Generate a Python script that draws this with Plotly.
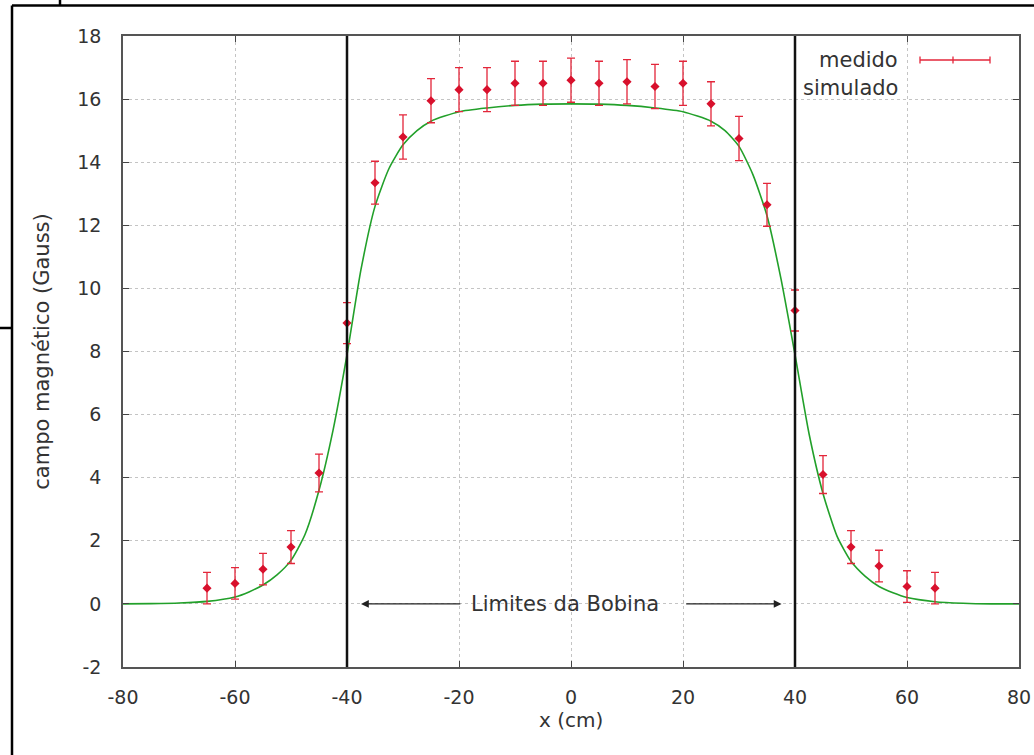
import plotly.graph_objects as go

# ---- data ----
x_medido = [-65, -60, -55, -50, -45, -40, -35, -30, -25, -20, -15, -10, -5, 0,
            5, 10, 15, 20, 25, 30, 35, 40, 45, 50, 55, 60, 65]
y_medido = [0.5, 0.65, 1.1, 1.8, 4.15, 8.9, 13.35, 14.8, 15.95, 16.3, 16.3, 16.5, 16.5, 16.6,
            16.5, 16.55, 16.4, 16.5, 15.85, 14.75, 12.65, 9.3, 4.1, 1.8, 1.2, 0.55, 0.5]
err_medido = [0.5, 0.5, 0.5, 0.52, 0.6, 0.65, 0.68, 0.7, 0.7, 0.7, 0.7, 0.7, 0.7, 0.7,
              0.7, 0.7, 0.7, 0.7, 0.7, 0.7, 0.68, 0.65, 0.6, 0.52, 0.5, 0.5, 0.5]

x_simulado = [-80, -75, -70, -65, -60, -57.5, -55, -52.5, -50, -47.5, -45, -42.5, -40, -37.5,
              -35, -32.5, -30, -27.5, -25, -20, -15, -10, -5, 0, 5, 10, 15, 20, 25, 27.5,
              30, 32.5, 35, 37.5, 40, 42.5, 45, 47.5, 50, 52.5, 55, 57.5, 60, 65, 70, 75, 80]
y_simulado = [0, 0.01, 0.03, 0.08, 0.22, 0.38, 0.6, 0.92, 1.38, 2.2, 3.6, 5.5, 7.9, 10.6,
              12.6, 13.8, 14.55, 15.0, 15.3, 15.6, 15.72, 15.8, 15.84, 15.85, 15.84, 15.8, 15.72, 15.6, 15.3, 15.0,
              14.5, 13.6, 12.3, 10.3, 7.9, 5.4, 3.5, 2.15, 1.35, 0.88, 0.55, 0.35, 0.2, 0.07, 0.02, 0.0, 0.0]

limites_bobina = [-40, 40]
x_ticks = [-80, -60, -40, -20, 0, 20, 40, 60, 80]
x_ticktext = ["-80", "-60", "-40", "-20", "0", "20", "40", "60", "80"]
y_ticks = [-2, 0, 2, 4, 6, 8, 10, 12, 14, 16, 18]
y_ticktext = ["-2", "0", "2", "4", "6", "8", "10", "12", "14", "16", "18"]

FONT = "DejaVu Sans, sans-serif"
TXT = "#333333"
RED = "#e3263a"
FS = 21
TFS = 19

fig = go.Figure()

fig.add_trace(go.Scatter(
    x=x_simulado, y=y_simulado, mode="lines", name="simulado",
    line=dict(color="#22a02a", width=1.6, shape="spline", smoothing=0.6),
    showlegend=False, hoverinfo="skip"))

fig.add_trace(go.Scatter(
    x=x_medido, y=y_medido, mode="markers", name="medido",
    marker=dict(symbol="diamond", size=7, color="#d8102c"),
    error_y=dict(type="data", array=err_medido, visible=True,
                 color=RED, thickness=1.3, width=4),
    showlegend=False))

shapes = []
# coil limits
for xv in limites_bobina:
    shapes.append(dict(type="line", xref="x", yref="paper", x0=xv, x1=xv, y0=0, y1=1,
                       line=dict(color="#111111", width=2.5), layer="above"))

# legend sample for "medido"
ly = (667 - 60) / 631
lx0, lx1, lxm = (920 - 123) / 896, (990 - 123) / 896, (953 - 123) / 896
cap = 3.5 / 631
shapes.append(dict(type="line", xref="paper", yref="paper", x0=lx0, x1=lx1, y0=ly, y1=ly,
                   line=dict(color=RED, width=1.3)))
for xv in (lx0, lx1, lxm):
    shapes.append(dict(type="line", xref="paper", yref="paper", x0=xv, x1=xv,
                       y0=ly - cap, y1=ly + cap, line=dict(color=RED, width=1.3)))

# document table borders around the picture
def px(xp):
    return (xp - 123) / 896

def py(yp):
    return (667 - yp) / 631

border = dict(color="black", width=2.5)
shapes += [
    dict(type="line", xref="paper", yref="paper", x0=px(12), x1=px(1034), y0=py(5.5), y1=py(5.5), line=border),
    dict(type="line", xref="paper", yref="paper", x0=px(60), x1=px(60), y0=py(0), y1=py(5.5), line=border),
    dict(type="line", xref="paper", yref="paper", x0=px(12), x1=px(12), y0=py(5.5), y1=py(755), line=border),
    dict(type="line", xref="paper", yref="paper", x0=px(0), x1=px(12), y0=py(328), y1=py(328), line=border),
]

annotations = [
    dict(x=-1, y=0, xref="x", yref="y", text="Limites da Bobina", showarrow=False,
         font=dict(family=FONT, size=FS, color=TXT)),
    dict(x=-37.5, y=0, xref="x", yref="y", ax=-19.5, ay=0, axref="x", ayref="y",
         text="", showarrow=True, arrowhead=2, arrowsize=1.2, arrowwidth=1.3, arrowcolor="#222222"),
    dict(x=37.6, y=0, xref="x", yref="y", ax=20.3, ay=0, axref="x", ayref="y",
         text="", showarrow=True, arrowhead=2, arrowsize=1.2, arrowwidth=1.3, arrowcolor="#222222"),
    dict(x=px(900), y=py(60), xref="paper", yref="paper", xanchor="right", yanchor="middle",
         text="medido", showarrow=False, font=dict(family=FONT, size=FS, color=TXT)),
    dict(x=px(900), y=py(88), xref="paper", yref="paper", xanchor="right", yanchor="middle",
         text="simulado", showarrow=False, font=dict(family=FONT, size=FS, color=TXT)),
    dict(x=0.5, y=py(720), xref="paper", yref="paper", xanchor="center", yanchor="middle",
         text="x (cm)", showarrow=False, font=dict(family=FONT, size=20, color=TXT)),
]

axis_common = dict(
    showline=True, linecolor="#555555", linewidth=1.5, mirror="allticks",
    ticks="inside", ticklen=6, tickcolor="#444444", tickwidth=1.2,
    showgrid=True, gridcolor="#c4c4c4", griddash="dot", gridwidth=1,
    zeroline=False, tickfont=dict(family=FONT, size=TFS, color=TXT),
    automargin=False,
)

fig.update_layout(
    width=1034, height=755,
    margin=dict(l=123, r=15, t=36, b=88),
    paper_bgcolor="white", plot_bgcolor="white",
    xaxis=dict(range=[-80, 80], tickvals=x_ticks, ticktext=x_ticktext, ticklabelstandoff=12,
               **axis_common),
    yaxis=dict(range=[-2, 18], tickvals=y_ticks, ticktext=y_ticktext, ticklabelstandoff=16,
               title=dict(text="campo magnético (Gauss)", font=dict(family=FONT, size=FS, color=TXT), standoff=22),
               **axis_common),
    shapes=shapes, annotations=annotations, showlegend=False,
)

fig.write_html("out.html")
